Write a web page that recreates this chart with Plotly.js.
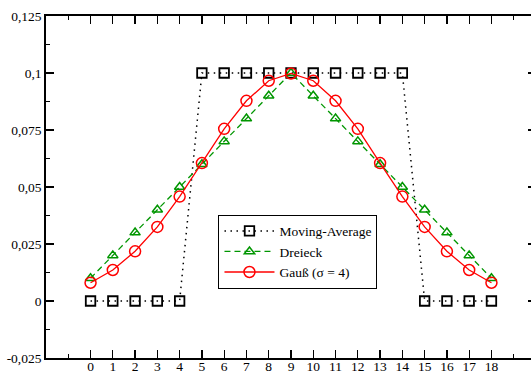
<!DOCTYPE html>
<html>
<head>
<meta charset="utf-8">
<script src="https://cdn.plot.ly/plotly-3.0.1.min.js"></script>
<style>
html,body{margin:0;padding:0;overflow:hidden;background:#fff;width:531px;height:374px;}
#chart{width:540px;height:374px;}
</style>
</head>
<body>
<div id="chart"></div>
<script>
const xValues = [0,1,2,3,4,5,6,7,8,9,10,11,12,13,14,15,16,17,18];
const movingAverage = [0,0,0,0,0,0.1,0.1,0.1,0.1,0.1,0.1,0.1,0.1,0.1,0.1,0,0,0,0];
const dreieck = [0.01,0.02,0.03,0.04,0.05,0.06,0.07,0.08,0.09,0.1,0.09,0.08,0.07,0.06,0.05,0.04,0.03,0.02,0.01];
const gauss = [0.0080,0.0136,0.0218,0.0325,0.0458,0.0605,0.0755,0.0878,0.0966,0.0998,0.0966,0.0878,0.0755,0.0605,0.0458,0.0325,0.0218,0.0136,0.0080];
const seriesNames = ["Moving-Average","Dreieck","Gauß (σ = 4)"];
const yTickVals = [-0.025,0,0.025,0.05,0.075,0.1,0.125];
const yTickText = ["-0,025","0","0,025","0,05","0,075","0,1","0,125"];

const font = {family:"Liberation Serif", size:13.5, color:"#000"};

const traces = [
  {x:xValues, y:movingAverage, name:seriesNames[0], mode:"lines+markers",
   line:{color:"#000", width:1.5, dash:"1.5px,4.5px"},
   marker:{symbol:"square-open", size:9.5, color:"#000", line:{width:1.8, color:"#000"}}},
  {x:xValues, y:dreieck, name:seriesNames[1], mode:"lines+markers",
   line:{color:"#009600", width:1.3, dash:"6px,4px"},
   marker:{symbol:"triangle-up-open", size:9, color:"#009600", line:{width:1.5, color:"#009600"}}},
  {x:xValues, y:gauss, name:seriesNames[2], mode:"lines+markers",
   line:{color:"#ff0000", width:1.3},
   marker:{symbol:"circle-open", size:11, color:"#ff0000", line:{width:1.5, color:"#ff0000"}}}
];

const layout = {
  width:540, height:374,
  margin:{l:46, r:4, t:16, b:16},
  paper_bgcolor:"#fff", plot_bgcolor:"#fff",
  font:font,
  showlegend:true,
  legend:{x:0.352, y:0.311, xanchor:"left", yanchor:"middle", itemwidth:50,
    bgcolor:"#fff", bordercolor:"#000", borderwidth:1, font:font, tracegroupgap:0},
  xaxis:{range:[-2,20], tickmode:"array", tickvals:xValues, ticktext:xValues.map(String),
    ticks:"inside", ticklen:8, tickwidth:1.3, tickcolor:"#000",
    showline:true, linecolor:"#000", linewidth:1.8, mirror:"allticks",
    showgrid:false, zeroline:false, tickfont:font, ticklabelstandoff:-5,
    minor:{tickmode:"array", tickvals:[-1,19], ticks:"inside", ticklen:4, tickwidth:1.3, tickcolor:"#000", showgrid:false}},
  yaxis:{range:[-0.025,0.125], tickmode:"array", tickvals:yTickVals, ticktext:yTickText,
    ticks:"inside", ticklen:8, tickwidth:1.3, tickcolor:"#000",
    showline:true, linecolor:"#000", linewidth:1.8, mirror:"allticks",
    showgrid:false, zeroline:false, tickfont:font,
    minor:{tickmode:"array", tickvals:[-0.0125,0.0125,0.0375,0.0625,0.0875,0.1125], ticks:"inside", ticklen:4, tickwidth:1.3, tickcolor:"#000", showgrid:false}}
};

Plotly.newPlot("chart", traces, layout, {displayModeBar:false, staticPlot:true});
</script>
</body>
</html>
